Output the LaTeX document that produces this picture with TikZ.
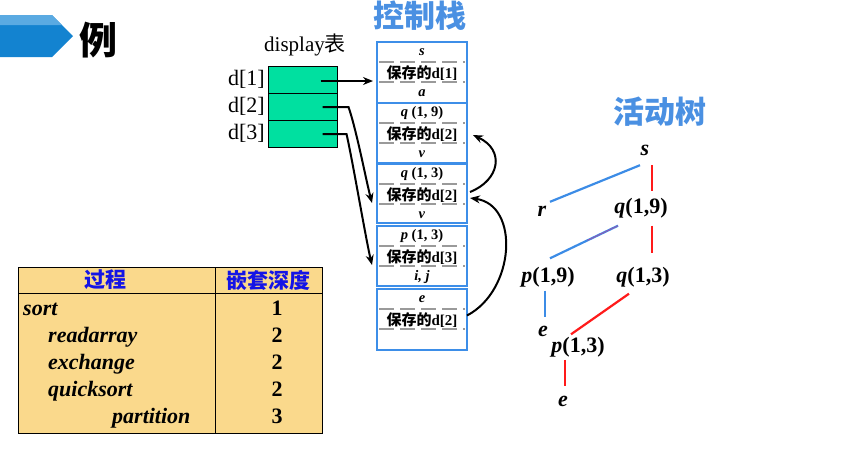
\documentclass[tikz,border=0pt]{standalone}
\usepackage{fontspec}
\setmainfont{Liberation Serif}
\newfontfamily\cjk{Noto Sans CJK SC}
\usetikzlibrary{arrows.meta,calc,positioning}
\definecolor{stackBlue}{HTML}{3D8EE8}
\definecolor{titleBlue}{HTML}{4A90E2}
\definecolor{bannerBlue}{HTML}{1383D0}
\definecolor{bannerLight}{HTML}{5AAAE2}
\definecolor{displayGreen}{HTML}{00E0A0}
\definecolor{tableFill}{HTML}{FAD98C}
\definecolor{headBlue}{HTML}{1414E6}
\definecolor{dashGray}{HTML}{9A9A9A}
\definecolor{treeBlue}{HTML}{3C8CE6}
\definecolor{treeRed}{HTML}{FF1A1A}
\newcommand{\saved}[1]{{\cjk\bfseries 保存的}\textbf{d[#1]}}

\begin{document}
\begin{tikzpicture}[x=1pt, y=-1pt,
    framebox/.style={draw=stackBlue, line width=2.8pt, minimum width=90pt, inner sep=0pt, outer sep=0pt},
    slotlabel/.style={font=\fontsize{14.5}{15}\selectfont\bfseries, inner sep=0pt},
    savelabel/.style={font=\fontsize{15}{16}\selectfont, inner sep=0pt},
    slotrule/.style={dashGray, line width=2.2pt, dash pattern=on 15pt off 6pt},
    ptr/.style={-{Stealth[length=10pt,width=8pt]}, line width=2pt},
    dslot/.style={draw=black, line width=0.9pt, fill=displayGreen, minimum width=69pt, minimum height=27pt, inner sep=0pt, outer sep=0pt},
    tnode/.style={font=\fontsize{22}{24}\selectfont\bfseries, text height=14pt, text depth=4pt, inner sep=0pt},
    bluelink/.style={treeBlue, line width=2.2pt},
    redlink/.style={treeRed, line width=2.2pt},
    rowtext/.style={font=\fontsize{22}{24}\selectfont\bfseries, inner sep=0pt}]
    \useasboundingbox (0,0) rectangle (842,464);

    % banner and titles
    \fill[bannerBlue] (0,15) -- (52,15) -- (73,36) -- (52,57) -- (0,57) -- cycle;
    \fill[bannerLight] (0,15) -- (52,15) -- (62,25) -- (0,25) -- cycle;
    \node[font=\cjk\bfseries\fontsize{38}{40}\selectfont] (ex) at (98,40) {例};
    \node[font=\cjk\bfseries\fontsize{31}{33}\selectfont, text=titleBlue] (stacktitle) at (420,16) {控制栈};
    \node[font=\cjk\bfseries\fontsize{31}{33}\selectfont, text=titleBlue] (treetitle) at (660,112) {活动树};
    \node[font=\fontsize{21}{22}\selectfont] (disptitle) at (305,45) {display{\cjk 表}};

    % display
    \foreach \i/\y in {1/79.5,2/106.5,3/133.5} {
      \node[dslot] (dbox\i) at (302.5,\y) {};
      \node[font=\fontsize{22}{24}\selectfont, inner sep=0pt, left=3pt of dbox\i] (dlab\i) {d[\i]};
    }

    % control stack
    \foreach \k/\y/\h in {1/72.5/61, 2/133/60, 3/193.5/59, 4/256/60, 5/319.5/61}
      \node[framebox, minimum height=\h pt] (f\k) at (422,\y) {};
    \foreach \k/\upper/\d/\lower in {1/{\textit{s}}/1/{\textit{a}}, 2/{\textit{q} (1, 9)}/2/{\textit{v}},
        3/{\textit{q} (1, 3)}/2/{\textit{v}}, 4/{\textit{p} (1, 3)}/3/{\textit{i, j}}, 5/{\textit{e}}/2/{}} {
      \node[slotlabel] (up\k) at ($(f\k.north)+(0,10)$) {\upper};
      \node[savelabel] (mid\k) at ($(f\k.north)+(0,31)$) {\saved{\d}};
      \node[slotlabel] (low\k) at ($(f\k.north)+(0,51)$) {\lower};
      \draw[slotrule] ($(f\k.north west)+(2,20)$) -- ($(f\k.north east)+(-2,20)$);
      \draw[slotrule] ($(f\k.north west)+(2,40)$) -- ($(f\k.north east)+(-2,40)$);
    }

    % display pointers
    \coordinate (p1) at ($(dbox1.center)+(18,1.5)$);
    \draw[ptr, shorten >=4pt] (p1) -- (p1 -| f1.west);
    \coordinate (p2) at ($(dbox2.center)+(20,0.5)$);
    \coordinate (k2) at ($(p2)+(26,0)$);
    \coordinate (t2) at ($(f3.west)+(-5,9.5)$);
    \draw[ptr] (p2) -- (k2) .. controls ($(k2)+(8,23)$) and ($(t2)+(-6,-23)$) .. (t2);
    \coordinate (p3) at ($(dbox3.center)+(20,0.5)$);
    \coordinate (k3) at ($(p3)+(24,0)$);
    \coordinate (t3) at ($(f4.west)+(-5,9)$);
    \draw[ptr] (p3) -- (k3) .. controls ($(k3)+(6,26)$) and ($(t3)+(-6,-25)$) .. (t3);

    % saved links
    \coordinate (s1) at ($(f3.east)+(3,-1.5)$);
    \coordinate (t4) at ($(f2.east)+(6,2)$);
    \draw[ptr] (s1) .. controls ($(s1)+(30,-12)$) and ($(t4)+(32,15)$) .. (t4);
    \coordinate (s2) at ($(f5.east)+(0,-4)$);
    \coordinate (t5) at ($(f3.east)+(3,4.5)$);
    \draw[ptr] (s2) .. controls ($(s2)+(48,-25)$) and ($(t5)+(50,7)$) .. (t5);

    % activation tree
    \node[tnode] (s) at (645,150) {\textit{s}};
    \node[tnode] (r) at (542,211) {\textit{r}};
    \node[tnode] (q19) at (641,208) {\textit{q}(1,9)};
    \node[tnode] (p19) at (548,277) {\textit{p}(1,9)};
    \node[tnode] (q13) at (643,277) {\textit{q}(1,3)};
    \node[tnode] (e1) at (543,331) {\textit{e}};
    \node[tnode] (p13) at (578,347) {\textit{p}(1,3)};
    \node[tnode] (e2) at (563,401) {\textit{e}};
    \draw[bluelink] ($(s.south)+(-5,6)$) -- ($(r.north)+(8,0)$);
    \draw[redlink] ($(s.south)+(7,6)$) -- ($(q19.north)+(11,-8)$);
    \coordinate (qp1) at ($(q19.south)+(-23,8.5)$);
    \coordinate (qp2) at ($(p19.north)+(2,-9.5)$);
    \draw[bluelink] (qp1) -- (qp2);
    \draw[violet!70, line width=0.7pt] (qp1) -- ($(qp1)!0.45!(qp2)$);
    \draw[redlink] ($(q19.south)+(11,8.5)$) -- ($(q13.north)+(9,-14.5)$);
    \draw[bluelink] ($(p19.south)+(-3,4.5)$) -- ($(e1.north)+(2,-4.5)$);
    \draw[redlink] ($(q13.south)+(-14,7.5)$) -- ($(p13.north)+(-7,-3.5)$);
    \draw[redlink] ($(p13.south)+(-13,3.5)$) -- ($(e2.north)+(2,-5.5)$);

    % nesting table
    \node[draw, line width=0.9pt, fill=tableFill, minimum width=304pt, minimum height=166pt, inner sep=0pt, outer sep=0pt, anchor=north west] (tbl) at (18,267) {};
    \draw[line width=0.9pt] ($(tbl.north west)+(0,26)$) -- ($(tbl.north east)+(0,26)$);
    \draw[line width=0.9pt] ($(tbl.north west)+(197,0)$) -- ($(tbl.south west)+(197,0)$);
    \node[font=\cjk\bfseries\fontsize{21}{22}\selectfont, text=headBlue] (headproc) at (105,280) {过程};
    \node[font=\cjk\bfseries\fontsize{21}{22}\selectfont, text=headBlue] (headdepth) at (268,280) {嵌套深度};
    \foreach \name/\x/\n/\yb [count=\r] in {sort/23/1/315, readarray/48/2/342, exchange/48/2/369, quicksort/48/2/396, partition/112/3/423} {
      \node[rowtext, anchor=base west] (proc\r) at (\x,\yb) {\textit{\name}};
      \node[rowtext, anchor=base] (depth\r) at (277,\yb) {\n};
    }
  \end{tikzpicture}
\end{document}
